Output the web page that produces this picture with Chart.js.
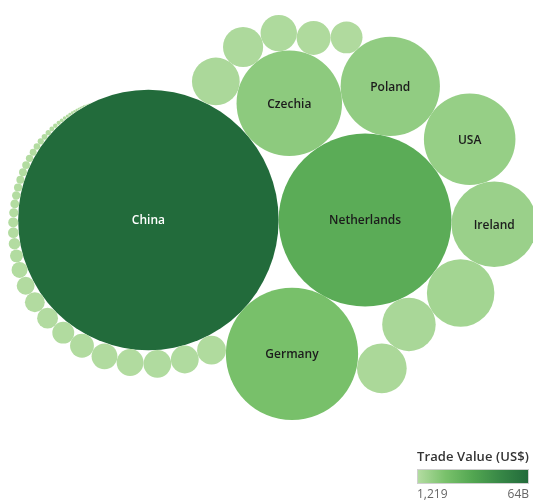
<!DOCTYPE html>
<html>
<head>
<meta charset="utf-8">
<script src="https://cdn.jsdelivr.net/npm/chart.js@4.4.1/dist/chart.umd.min.js"></script>
<style>
    html, body { margin: 0; padding: 0; background: #fff; }
    #wrap { position: relative; width: 533px; height: 502px; font-family: "Open Sans", sans-serif; overflow: hidden; }
    #bubbles { position: absolute; left: 0; top: 0; }
    .legend { position: absolute; left: 417px; top: 447px; width: 112px; }
    .legend-title { font-size: 13px; font-weight: 600; color: #333; white-space: nowrap; letter-spacing: 0.1px; }
    .legend-bar { margin-top: 4px; height: 15px; border: 1px solid #cfcfcf; box-sizing: border-box; }
    .legend-ticks { display: flex; justify-content: space-between; font-size: 12px; color: #666; margin-top: 1px; }
</style>
</head>
<body>
<div id="wrap">
    <canvas id="bubbles" width="533" height="502"></canvas>
    <div class="legend">
        <div class="legend-title">Trade Value (US$)</div>
        <div class="legend-bar" id="legendBar"></div>
        <div class="legend-ticks"><span id="tickMin"></span><span id="tickMax"></span></div>
    </div>
</div>
<script>
// подписанные страны (остальные пузыри в оригинале без подписи)
const countries = ["China", "Netherlands", "Germany", "Czechia", "Poland", "USA", "Ireland"];

// стоимость торговли, млн US$, по убыванию
const tradeValues = [
    64000, 28200, 16500, 10500, 9300, 7900, 6900,
    4300, 2700, 2330, 2150, 1520, 1250, 1090, 960,
    784, 731, 725, 680, 630, 537, 451, 411, 373, 302, 239, 158,
    125, 109, 93, 79, 72, 66, 63, 60, 59, 57,
    51, 46, 41, 36, 31, 27, 23, 20, 16.4, 13.5, 12.1, 9.5, 8.4, 7.3, 6.3, 5.4, 4.5, 3.7,
    3.0, 2.4, 1.8, 1.3, 0.93, 0.76, 0.6, 0.46, 0.34, 0.23, 0.15, 0.084, 0.037, 0.0093, 0.001219
];

const legendTicks = ["1,219", "64B"];

const colorStops = [
    [0, "#b3dca1"],
    [0.25, "#79c16b"],
    [0.5, "#52a651"],
    [0.75, "#378746"],
    [1, "#226b3b"]
];

const minValue = Math.min(...tradeValues);
const maxValue = Math.max(...tradeValues);

function hexToRgb(hex) {
    const n = parseInt(hex.slice(1), 16);
    return [(n >> 16) & 255, (n >> 8) & 255, n & 255];
}

function colorFor(value) {
    const t = (value - minValue) / (maxValue - minValue);
    for (let i = 1; i < colorStops.length; i++) {
        const [t1, c1] = colorStops[i];
        const [t0, c0] = colorStops[i - 1];
        if (t <= t1) {
            const k = (t - t0) / (t1 - t0);
            const a = hexToRgb(c0), b = hexToRgb(c1);
            const rgb = a.map((v, j) => Math.round(v + (b[j] - v) * k));
            return `rgb(${rgb.join(",")})`;
        }
    }
    return colorStops[colorStops.length - 1][1];
}

// ---- упаковка пузырей: фронт-цепочка, по спирали за последним кругом ----
function place(b, a, c) {
    const dx = b.x - a.x, dy = b.y - a.y, d2 = dx * dx + dy * dy;
    if (d2) {
        let a2 = a.r + c.r; a2 *= a2;
        let b2 = b.r + c.r; b2 *= b2;
        if (a2 > b2) {
            const x = (d2 + b2 - a2) / (2 * d2);
            const y = Math.sqrt(Math.max(0, b2 / d2 - x * x));
            c.x = b.x - x * dx - y * dy;
            c.y = b.y - x * dy + y * dx;
        } else {
            const x = (d2 + a2 - b2) / (2 * d2);
            const y = Math.sqrt(Math.max(0, a2 / d2 - x * x));
            c.x = a.x + x * dx - y * dy;
            c.y = a.y + x * dy + y * dx;
        }
    } else {
        c.x = a.x + c.r;
        c.y = a.y;
    }
}

function intersects(a, b) {
    const dr = a.r + b.r - 1e-6, dx = b.x - a.x, dy = b.y - a.y;
    return dr > 0 && dr * dr > dx * dx + dy * dy;
}

function score(node) {
    const a = node._, b = node.next._, ab = a.r + b.r;
    const dx = (a.x * b.r + b.x * a.r) / ab;
    const dy = (a.y * b.r + b.y * a.r) / ab;
    return dx * dx + dy * dy;
}

function packBubbles(radii) {
    const circles = radii.map(r => ({ r: r, x: 0, y: 0 }));
    const n = circles.length;
    if (n < 2) return circles;
    const first = circles[0], second = circles[1];
    first.x = -second.r;
    second.x = first.r;
    if (n < 3) return circles;
    place(second, first, circles[2]);

    const node = c => ({ _: c, next: null, previous: null });
    let a = node(first), b = node(second), c = node(circles[2]);
    a.next = c.previous = b;
    b.next = a.previous = c;
    c.next = b.previous = a;

    let closed = false;
    pack: for (let i = 3; i < n; ++i) {
        const circle = circles[i];
        place(a._, b._, circle);
        let j = b.next, k = a.previous, sj = b._.r, sk = a._.r;
        do {
            if (sj <= sk) {
                if (intersects(j._, circle)) {
                    b = j; a.next = b; b.previous = a; closed = true; --i;
                    continue pack;
                }
                sj += j._.r; j = j.next;
            } else {
                if (intersects(k._, circle)) {
                    a = k; a.next = b; b.previous = a; closed = true; --i;
                    continue pack;
                }
                sk += k._.r; k = k.previous;
            }
        } while (j !== k.next);

        const added = node(circle);
        added.previous = a; added.next = b;
        a.next = b.previous = added;

        if (closed) {
            // цепочка замкнулась — переходим к ближайшему к центру зазору
            let best = added, bestScore = score(added), m = added.next;
            while (m !== added) {
                const s = score(m);
                if (s < bestScore) { best = m; bestScore = s; }
                m = m.next;
            }
            a = best;
        } else {
            a = added;
        }
        b = a.next;
        closed = false;
    }
    return circles;
}

const circles = packBubbles(tradeValues.map(v => Math.sqrt(v)));

// ---- вписываем облако в область рисунка ----
const W = 533, H = 502;
const frame = { left: 8, top: 11, width: 529, height: 413 };
let minX = Infinity, maxX = -Infinity, minY = Infinity, maxY = -Infinity;
circles.forEach(c => {
    minX = Math.min(minX, c.x - c.r); maxX = Math.max(maxX, c.x + c.r);
    minY = Math.min(minY, c.y - c.r); maxY = Math.max(maxY, c.y + c.r);
});
const fit = Math.min(frame.width / (maxX - minX), frame.height / (maxY - minY));
const offX = frame.left + (frame.width - (maxX - minX) * fit) / 2;
const offY = frame.top + (frame.height - (maxY - minY) * fit) / 2;
const xMin = minX - offX / fit, xMax = xMin + W / fit;
const yMin = minY - offY / fit, yMax = yMin + H / fit;

const bubbleData = circles.map((c, i) => ({ x: c.x, y: c.y, size: c.r, name: countries[i] || "" }));

const bubbleLabels = {
    id: "bubbleLabels",
    afterDatasetsDraw(chart) {
        const ctx = chart.ctx;
        const meta = chart.getDatasetMeta(0);
        ctx.save();
        ctx.font = "600 12px 'Open Sans'";
        ctx.textAlign = "center";
        ctx.textBaseline = "middle";
        meta.data.forEach((el, i) => {
            const name = bubbleData[i].name;
            if (!name) return;
            if (ctx.measureText(name).width > el.options.radius * 1.9) return;
            ctx.fillStyle = tradeValues[i] / maxValue > 0.5 ? "#ffffff" : "#1c1c1c";
            ctx.fillText(name, el.x, el.y + 1);
        });
        ctx.restore();
    }
};

const chart = new Chart(document.getElementById("bubbles").getContext("2d"), {
    type: "bubble",
    data: {
        datasets: [{
            label: "Trade Value (US$)",
            data: bubbleData,
            backgroundColor: tradeValues.map(colorFor),
            borderWidth: 0,
            hoverBorderWidth: 0
        }]
    },
    options: {
        responsive: false,
        animation: false,
        events: [],
        layout: { padding: 0, autoPadding: false },
        scales: {
            x: { type: "linear", display: false, min: xMin, max: xMax },
            y: { type: "linear", display: false, reverse: true, min: yMin, max: yMax }
        },
        plugins: {
            legend: { display: false },
            tooltip: { enabled: false }
        }
    },
    plugins: [bubbleLabels]
});

// радиус пузыря берём из масштаба оси x (пикселей на единицу)
const sx = chart.scales.x;
const pxPerUnit = Math.abs(sx.getPixelForValue(1) - sx.getPixelForValue(0));
chart.data.datasets[0].data = bubbleData.map(d => ({ ...d, r: d.size * pxPerUnit }));
chart.update();

// легенда цвета
document.getElementById("legendBar").style.background =
    `linear-gradient(to right, ${colorStops.map(([t, c]) => `${c} ${t * 100}%`).join(", ")})`;
document.getElementById("tickMin").textContent = legendTicks[0];
document.getElementById("tickMax").textContent = legendTicks[1];
</script>
</body>
</html>
